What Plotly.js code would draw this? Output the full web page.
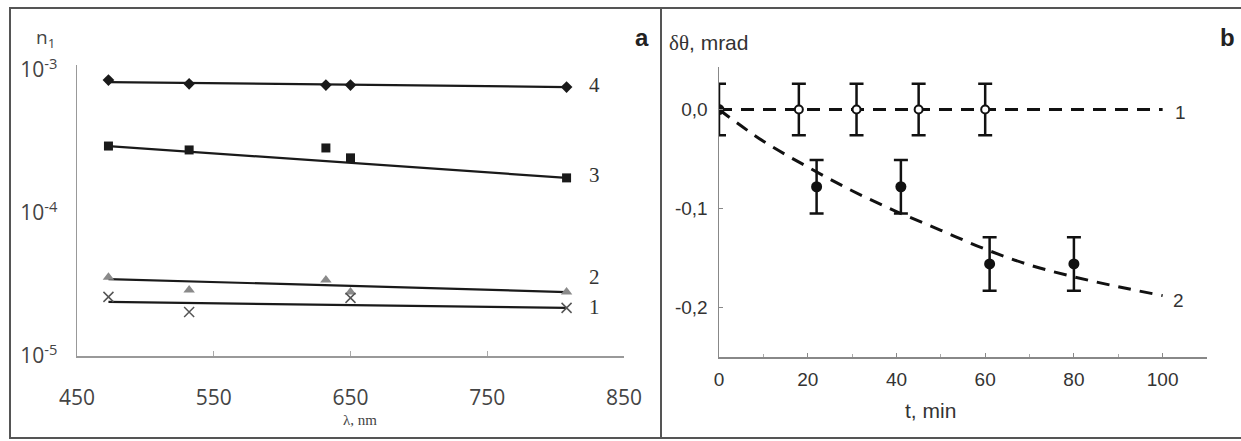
<!DOCTYPE html>
<html>
<head>
<meta charset="utf-8">
<script src="https://cdn.plot.ly/plotly-3.0.1.min.js"></script>
<style>
  html, body { margin: 0; padding: 0; background: #fff; }
  #chart { width: 1241px; height: 441px; }
</style>
</head>
<body>
<div id="chart"></div>
<script>
// ---------- Panel a data ----------
const lambda = [473, 532, 632, 650, 808];
const n4 = [8.5e-4, 8.0e-4, 7.85e-4, 7.85e-4, 7.6e-4];
const n3 = [2.94e-4, 2.76e-4, 2.85e-4, 2.43e-4, 1.76e-4];
const n2 = [3.56e-5, 2.90e-5, 3.40e-5, 2.80e-5, 2.80e-5];
const lambda1 = [473, 532, 650, 808];
const n1 = [2.59e-5, 2.03e-5, 2.55e-5, 2.17e-5];
const fitLambda = [473, 808];
const fit4 = [8.24e-4, 7.6e-4];
const fit3 = [2.94e-4, 1.76e-4];
const fit2 = [3.45e-5, 2.80e-5];
const fit1 = [2.39e-5, 2.17e-5];
const aYTickVals = [1e-5, 1e-4, 1e-3];
const aYTickText = ['10<sup>-5</sup>', '10<sup>-4</sup>', '10<sup>-3</sup>'];
const aXTickVals = [450, 550, 650, 750, 850];

// ---------- Panel b data ----------
const tOpen = [18, 31, 45, 60];
const yOpen = [0, 0, 0, 0];
const errOpen = [0.026, 0.026, 0.026, 0.026];
const tFilled = [0, 22, 41, 61, 80];
const yFilled = [0, -0.078, -0.078, -0.156, -0.156];
const errFilled = [0.026, 0.027, 0.027, 0.027, 0.027];
const tLine1 = [0, 100];
const yLine1 = [0, 0];
const tLine2 = [0, 10, 20, 30, 40, 50, 60, 70, 80, 90, 100];
const yLine2 = [0, -0.032, -0.058, -0.082, -0.103, -0.122, -0.141, -0.157, -0.169, -0.179, -0.188];
const bYTickVals = [-0.2, -0.1, 0];
const bYTickText = ['-0,2', '-0,1', '0,0'];
const bXTickVals = [0, 20, 40, 60, 80, 100];

const W = 1241, H = 441;
const px = x => x / W;
const py = y => 1 - y / H;

const lineStyle = {color: '#1a1a1a', width: 2.2};
const traces = [
  // panel a fit lines
  {x: fitLambda, y: fit4, mode: 'lines', line: lineStyle, xaxis: 'x', yaxis: 'y'},
  {x: fitLambda, y: fit3, mode: 'lines', line: lineStyle, xaxis: 'x', yaxis: 'y'},
  {x: fitLambda, y: fit2, mode: 'lines', line: lineStyle, xaxis: 'x', yaxis: 'y'},
  {x: fitLambda, y: fit1, mode: 'lines', line: lineStyle, xaxis: 'x', yaxis: 'y'},
  // panel a markers
  {x: lambda, y: n4, mode: 'markers', marker: {symbol: 'diamond', size: 9, color: '#1a1a1a'}, xaxis: 'x', yaxis: 'y'},
  {x: lambda, y: n3, mode: 'markers', marker: {symbol: 'square', size: 9, color: '#1a1a1a'}, xaxis: 'x', yaxis: 'y'},
  {x: lambda, y: n2, mode: 'markers', marker: {symbol: 'triangle-up', size: 10, color: '#8a8a8a'}, xaxis: 'x', yaxis: 'y'},
  {x: lambda1, y: n1, mode: 'markers', marker: {symbol: 'x-thin-open', size: 10, color: '#555', line: {color: '#555', width: 1.5}}, xaxis: 'x', yaxis: 'y'},
  // panel b lines
  {x: tLine1, y: yLine1, mode: 'lines', line: {color: '#111', width: 3, dash: '13px,9px'}, xaxis: 'x2', yaxis: 'y2'},
  {x: tLine2, y: yLine2, mode: 'lines', line: {color: '#111', width: 3, dash: '13px,9px', shape: 'spline'}, xaxis: 'x2', yaxis: 'y2'},
  // panel b points
  {x: tOpen, y: yOpen, mode: 'markers',
   error_y: {type: 'data', array: errOpen, visible: true, color: '#111', thickness: 2.5, width: 7},
   marker: {symbol: 'circle', size: 8, color: '#fff', line: {color: '#111', width: 2}}, xaxis: 'x2', yaxis: 'y2'},
  {x: tFilled, y: yFilled, mode: 'markers',
   error_y: {type: 'data', array: errFilled, visible: true, color: '#111', thickness: 2.5, width: 7},
   marker: {symbol: 'circle', size: 11, color: '#111'}, xaxis: 'x2', yaxis: 'y2'}
];

const annFontA = {family: 'Liberation Serif', size: 21, color: '#333'};
const annFontB = {family: 'Liberation Sans', size: 19, color: '#333'};
function ann(x, y, text, font) {
  return {xref: 'paper', yref: 'paper', x: px(x), y: py(y), text: text, showarrow: false,
          xanchor: 'center', yanchor: 'middle', font: font};
}
const layout = {
  width: W, height: H,
  margin: {l: 0, r: 0, t: 0, b: 0},
  paper_bgcolor: '#fff', plot_bgcolor: 'rgba(0,0,0,0)',
  showlegend: false,
  xaxis: {
    domain: [px(77), px(624)], range: [450, 850], anchor: 'y',
    tickvals: aXTickVals, ticks: 'inside', ticklen: 5, tickcolor: '#aaa',
    showline: true, linecolor: '#999', linewidth: 1.5, showgrid: false, zeroline: false,
    tickfont: {family: 'Open Sans', size: 21, color: '#444'}, ticklabelstandoff: 22
  },
  yaxis: {
    domain: [py(356), py(65)], type: 'log', range: [-5, -2.965], anchor: 'x',
    tickvals: aYTickVals, ticktext: aYTickText, ticks: '',
    showline: true, linecolor: '#999', linewidth: 1.5, showgrid: false, zeroline: false,
    tickfont: {family: 'Open Sans', size: 21, color: '#444'}, ticklabelstandoff: 14
  },
  xaxis2: {
    domain: [px(719), px(1207)], range: [0, 110], anchor: 'y2',
    tickvals: bXTickVals, ticks: 'inside', ticklen: 4, tickcolor: '#888',
    minor: {dtick: 10, ticks: 'inside', ticklen: 3, tickcolor: '#aaa'},
    showline: true, linecolor: '#888', linewidth: 1.5, showgrid: false, zeroline: false,
    tickfont: {family: 'Liberation Sans', size: 19, color: '#333'}, ticklabelstandoff: 5
  },
  yaxis2: {
    domain: [py(357), py(67)], range: [-0.25, 0.043], anchor: 'x2',
    tickvals: bYTickVals, ticktext: bYTickText, ticks: 'inside', ticklen: 4, tickcolor: '#888',
    showline: true, linecolor: '#888', linewidth: 1.5, showgrid: false, zeroline: false,
    tickfont: {family: 'Liberation Sans', size: 19, color: '#333'}, ticklabelstandoff: 6
  },
  shapes: [
    {type: 'rect', xref: 'paper', yref: 'paper', x0: px(10), x1: px(1245), y0: py(438), y1: py(8),
     line: {color: '#555', width: 2}, fillcolor: 'rgba(0,0,0,0)'},
    {type: 'line', xref: 'paper', yref: 'paper', x0: px(661), x1: px(661), y0: py(438), y1: py(8),
     line: {color: '#555', width: 2}}
  ],
  annotations: [
    ann(45, 38, 'n<sub>1</sub>', {family: 'Open Sans', size: 19, color: '#444'}),
    ann(642, 37, '<b>a</b>', {family: 'Liberation Sans', size: 24, color: '#222'}),
    ann(1227, 37, '<b>b</b>', {family: 'Liberation Sans', size: 24, color: '#222'}),
    ann(360, 420, 'λ, nm', {family: 'Liberation Serif', size: 15, color: '#444'}),
    ann(594, 85, '4', annFontA),
    ann(594, 175, '3', annFontA),
    ann(594, 277, '2', annFontA),
    ann(594, 307, '1', annFontA),
    ann(709, 43, '<span style="font-family:Liberation Serif">δθ</span>, mrad',
        {family: 'Liberation Sans', size: 21, color: '#333'}),
    ann(930, 410, 't, min', {family: 'Liberation Sans', size: 21, color: '#333'}),
    ann(1180, 112, '1', annFontB),
    ann(1178, 300, '2', annFontB)
  ]
};

Plotly.newPlot('chart', traces, layout, {staticPlot: true, displayModeBar: false});
</script>
</body>
</html>
